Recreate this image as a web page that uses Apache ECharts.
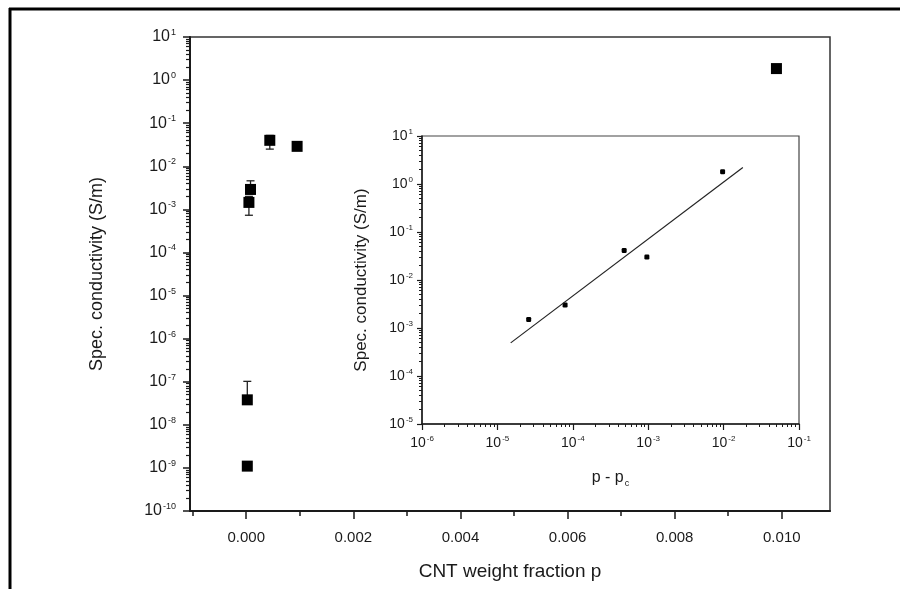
<!DOCTYPE html>
<html>
<head>
<meta charset="utf-8">
<script src="https://cdn.jsdelivr.net/npm/echarts@6/dist/echarts.min.js"></script>
<style>
  html, body { margin: 0; padding: 0; background: #fff; }
  #chart { width: 900px; height: 589px; }
</style>
</head>
<body>
<div id="chart"></div>
<script>
// main plot: conductivity vs CNT weight fraction
const mainX = [0.00002, 0.00002, 0.00005, 0.00008, 0.00044, 0.00095, 0.0099]
const mainY = [1.1e-9, 3.8e-8, 1.45e-3, 2.9e-3, 0.040, 0.029, 1.85]

// error bars: x, low, high
const errX = [0.00002, 0.00005, 0.00008, 0.00044]
const errLow = [3.3e-8, 7.3e-4, 2.3e-3, 0.025]
const errHigh = [1.02e-7, 2.0e-3, 4.6e-3, 0.052]

// inset: conductivity vs p - pc
const insetX = [2.6e-5, 7.9e-5, 4.8e-4, 9.6e-4, 9.7e-3]
const insetY = [1.5e-3, 3.0e-3, 0.041, 0.030, 1.8]
const fitX = [1.5e-5, 1.8e-2]
const fitY = [4.9e-4, 2.2]

// ticks
const mainXLabels = [0, 0.002, 0.004, 0.006, 0.008, 0.010]
const mainXMinor = [-0.001, 0.001, 0.003, 0.005, 0.007, 0.009]
const mainYDecades = [-10, -9, -8, -7, -6, -5, -4, -3, -2, -1, 0]
const insetYDecades = [-5, -4, -3, -2, -1, 0]
const insetXDecades = [-6, -5, -4, -3, -2]
const minorMult = [2, 3, 4, 5, 6, 7, 8, 9]

const FONT = 'Liberation Sans, Arial, sans-serif'
const INK = '#1a1a1a'

function logMinor(decades) {
  const out = []
  decades.forEach(d => minorMult.forEach(m => out.push(d + Math.log10(m))))
  return out
}

function powLabel(v) {
  const e = Math.round(Math.log10(v))
  return '{b|10}{e|' + e + '}'
}

const richBig = {
  b: { fontSize: 16, color: INK, fontFamily: FONT, lineHeight: 18 },
  e: { fontSize: 9, color: INK, fontFamily: FONT, verticalAlign: 'top', lineHeight: 18, padding: [0, 0, 6, 1] }
}
const richSmall = {
  b: { fontSize: 14, color: INK, fontFamily: FONT, lineHeight: 16 },
  e: { fontSize: 8, color: INK, fontFamily: FONT, verticalAlign: 'top', lineHeight: 16, padding: [0, 0, 5, 1] }
}

const chart = echarts.init(document.getElementById('chart'))

chart.setOption({
  animation: false,
  backgroundColor: '#fff',
  graphic: [
    { type: 'line', shape: { x1: 10, y1: 8, x2: 10, y2: 589 }, style: { stroke: '#000', lineWidth: 3 } },
    { type: 'line', shape: { x1: 9, y1: 9, x2: 900, y2: 9 }, style: { stroke: '#000', lineWidth: 3 } }
  ],
  grid: [
    { left: 190, top: 37, right: 70, bottom: 78, show: true, borderColor: '#333', borderWidth: 1.5 },
    { left: 422, top: 136, right: 101, bottom: 165, show: true, borderColor: '#444', borderWidth: 1.2 }
  ],
  xAxis: [
    {
      type: 'value', gridIndex: 0, min: -0.00105, max: 0.0109, position: 'bottom',
      name: 'CNT weight fraction p', nameLocation: 'middle', nameGap: 51,
      nameTextStyle: { fontSize: 19, color: INK, fontFamily: FONT },
      axisLine: { onZero: false, lineStyle: { color: INK, width: 2 } },
      axisTick: { customValues: mainXLabels, length: 8, lineStyle: { color: INK, width: 1.5 } },
      axisLabel: { customValues: mainXLabels, formatter: v => v.toFixed(3), fontSize: 15, color: INK, fontFamily: FONT, margin: 19 },
      splitLine: { show: false }
    },
    {
      type: 'value', gridIndex: 0, min: -0.00105, max: 0.0109, position: 'bottom',
      axisLine: { show: false, onZero: false },
      axisTick: { customValues: mainXMinor, length: 5, lineStyle: { color: INK, width: 1.5 } },
      axisLabel: { show: false },
      splitLine: { show: false }
    },
    {
      type: 'log', gridIndex: 1, min: 1e-6, max: 0.1, interval: 1, logBase: 10, position: 'bottom',
      name: '{a|p - p}{s|c}', nameLocation: 'middle', nameGap: 44,
      nameTextStyle: {
        rich: {
          a: { fontSize: 16, color: INK, fontFamily: FONT, lineHeight: 20 },
          s: { fontSize: 9, color: INK, fontFamily: FONT, verticalAlign: 'bottom', lineHeight: 20, padding: [6, 0, 0, 1] }
        }
      },
      axisLine: { onZero: false, lineStyle: { color: INK, width: 1.5 } },
      axisTick: { length: 6, lineStyle: { color: INK, width: 1.2 } },
      axisLabel: { formatter: powLabel, rich: richSmall, margin: 11 },
      splitLine: { show: false }
    },
    {
      type: 'value', gridIndex: 1, min: -6, max: -1, position: 'bottom',
      axisLine: { show: false, onZero: false },
      axisTick: { customValues: logMinor(insetXDecades), length: 3, lineStyle: { color: INK, width: 1 } },
      axisLabel: { show: false },
      splitLine: { show: false }
    }
  ],
  yAxis: [
    {
      type: 'log', gridIndex: 0, min: 1e-10, max: 10, interval: 1, logBase: 10, position: 'left',
      name: 'Spec. conductivity (S/m)', nameLocation: 'middle', nameGap: 84,
      nameTextStyle: { fontSize: 18, color: INK, fontFamily: FONT },
      axisLine: { onZero: false, lineStyle: { color: INK, width: 2 } },
      axisTick: { length: 7, lineStyle: { color: INK, width: 1.5 } },
      axisLabel: { formatter: powLabel, rich: richBig, margin: 14 },
      splitLine: { show: false }
    },
    {
      type: 'value', gridIndex: 0, min: -10, max: 1, position: 'left',
      axisLine: { show: false, onZero: false },
      axisTick: { customValues: logMinor(mainYDecades), length: 4, lineStyle: { color: INK, width: 1.2 } },
      axisLabel: { show: false },
      splitLine: { show: false }
    },
    {
      type: 'log', gridIndex: 1, min: 1e-5, max: 10, interval: 1, logBase: 10, position: 'left',
      name: 'Spec. conductivity (S/m)', nameLocation: 'middle', nameGap: 52,
      nameTextStyle: { fontSize: 17, color: INK, fontFamily: FONT },
      axisLine: { onZero: false, lineStyle: { color: INK, width: 1.5 } },
      axisTick: { length: 5, lineStyle: { color: INK, width: 1.2 } },
      axisLabel: { formatter: powLabel, rich: richSmall, margin: 9 },
      splitLine: { show: false }
    },
    {
      type: 'value', gridIndex: 1, min: -5, max: 1, position: 'left',
      axisLine: { show: false, onZero: false },
      axisTick: { customValues: logMinor(insetYDecades), length: 3, lineStyle: { color: INK, width: 1 } },
      axisLabel: { show: false },
      splitLine: { show: false }
    }
  ],
  series: [
    {
      type: 'custom', xAxisIndex: 0, yAxisIndex: 0, silent: true,
      data: errX.map((x, i) => [x, errLow[i], errHigh[i]]),
      renderItem: (params, api) => {
        const lo = api.coord([api.value(0), api.value(1)])
        const hi = api.coord([api.value(0), api.value(2)])
        const w = 4
        return {
          type: 'group',
          children: [
            { type: 'line', shape: { x1: lo[0], y1: lo[1], x2: hi[0], y2: hi[1] }, style: { stroke: '#222', lineWidth: 1.3 } },
            { type: 'line', shape: { x1: lo[0] - w, y1: lo[1], x2: lo[0] + w, y2: lo[1] }, style: { stroke: '#222', lineWidth: 1.3 } },
            { type: 'line', shape: { x1: hi[0] - w, y1: hi[1], x2: hi[0] + w, y2: hi[1] }, style: { stroke: '#222', lineWidth: 1.3 } }
          ]
        }
      }
    },
    {
      type: 'scatter', xAxisIndex: 0, yAxisIndex: 0,
      symbol: 'rect', symbolSize: [11, 11],
      itemStyle: { color: '#000', opacity: 1 },
      data: mainX.map((x, i) => [x, mainY[i]])
    },
    {
      type: 'line', xAxisIndex: 2, yAxisIndex: 2,
      showSymbol: false, symbol: 'none',
      lineStyle: { color: '#222', width: 1.2 },
      data: fitX.map((x, i) => [x, fitY[i]])
    },
    {
      type: 'scatter', xAxisIndex: 2, yAxisIndex: 2,
      symbol: 'roundRect', symbolSize: 5,
      itemStyle: { color: '#000', opacity: 1 },
      data: insetX.map((x, i) => [x, insetY[i]])
    }
  ]
})
</script>
</body>
</html>
